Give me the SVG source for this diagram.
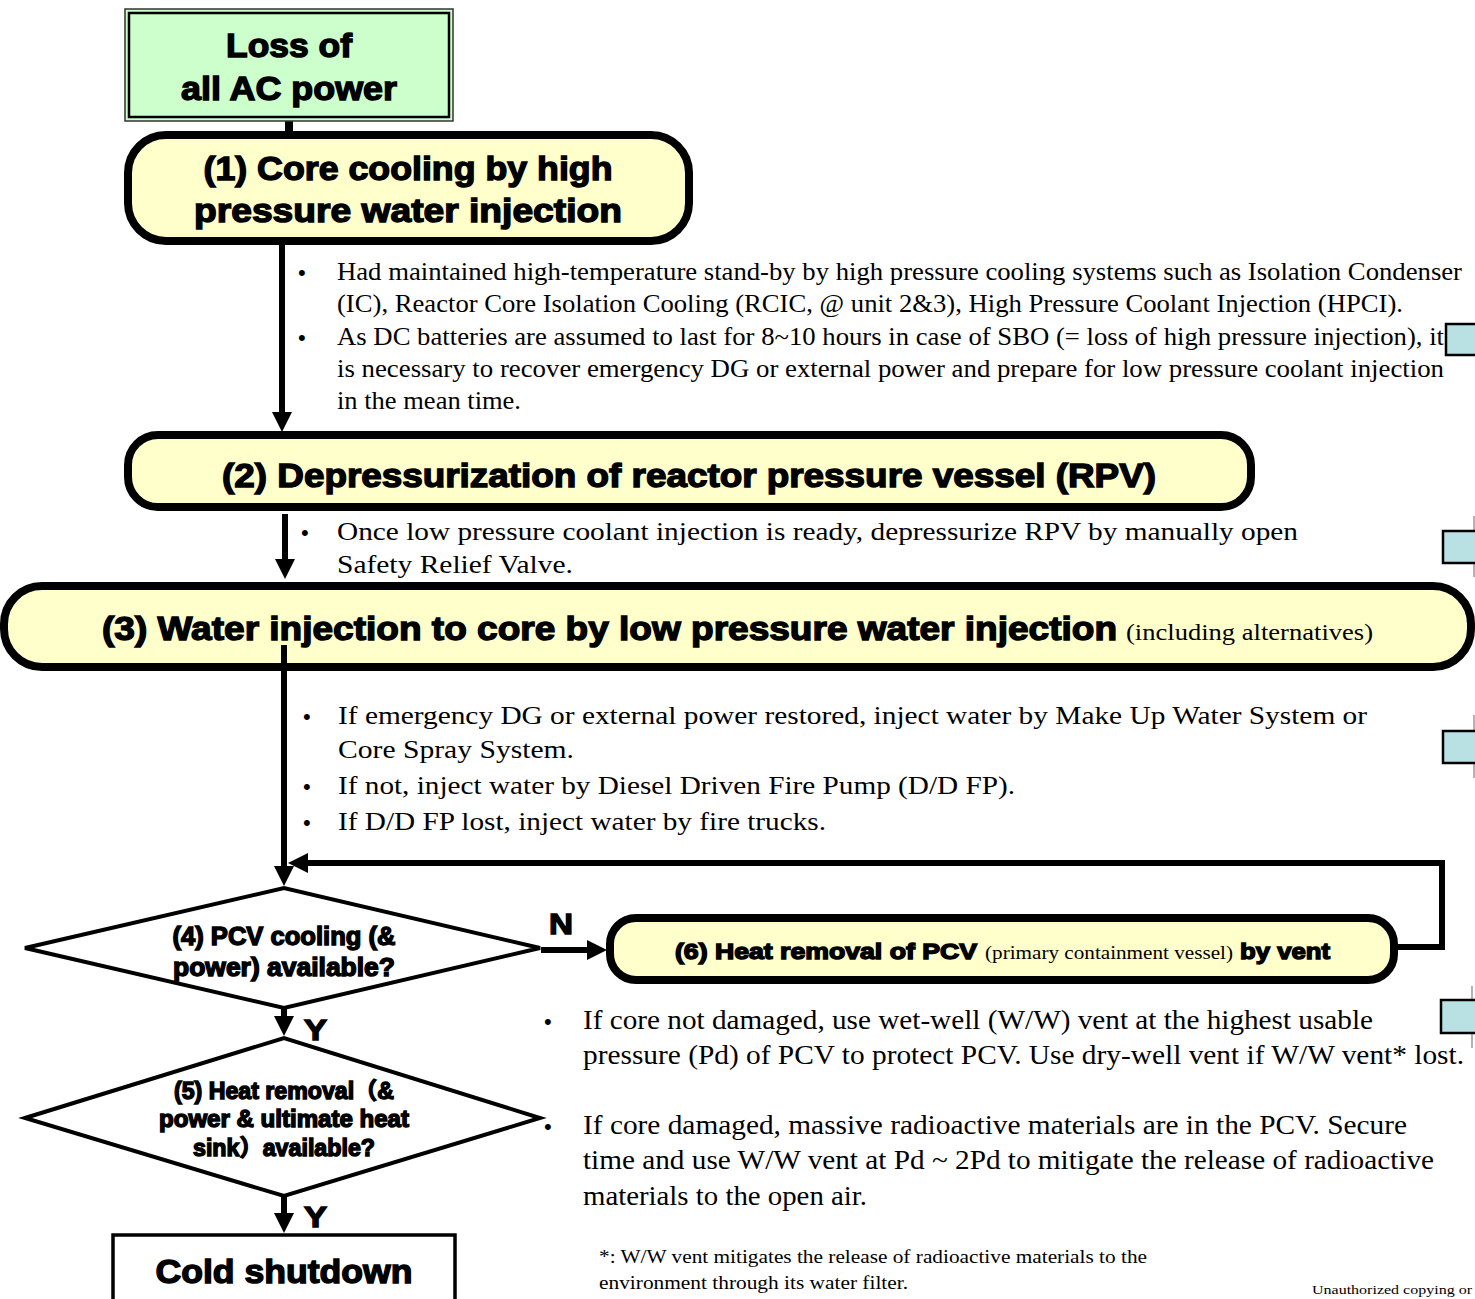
<svg xmlns="http://www.w3.org/2000/svg" width="1475" height="1299" viewBox="0 0 1475 1299">
  <style>
    .head { font-family: "Liberation Sans", Arial, "Noto Sans CJK JP", sans-serif; font-weight: bold; fill: #000; stroke: #000; stroke-width: 1.4; }
    .body { font-family: "Liberation Serif", "Times New Roman", serif; fill: #000; }
    .dot { font-family: "Liberation Sans", Arial, sans-serif; fill: #000; }
    .box { fill: #ffffcc; stroke: #000; stroke-width: 8; }
    .dia { fill: #fff; stroke: #000; stroke-width: 4; stroke-linejoin: miter; }
    .wire { fill: none; stroke: #000; stroke-width: 6; }
    .tab { fill: #b9e1e4; stroke: #000; stroke-width: 2.5; }
    .edge { stroke: #999; stroke-width: 1.5; }
  </style>
  <defs>
    <marker id="arrow" viewBox="0 0 20 20" refX="6" refY="10" markerWidth="20" markerHeight="20" markerUnits="userSpaceOnUse" orient="auto">
      <path d="M0,0 L20,10 L0,20 z" fill="#000"/>
    </marker>
  </defs>

  <rect width="1475" height="1299" fill="#fff"/>

  <!-- connectors -->
  <g id="connectors">
    <line x1="289" y1="119" x2="289" y2="137" stroke="#000" stroke-width="8"/>
    <line class="wire" x1="282" y1="245" x2="282" y2="418" marker-end="url(#arrow)"/>
    <line class="wire" x1="285" y1="514" x2="285" y2="565" marker-end="url(#arrow)"/>
    <line class="wire" x1="284" y1="645" x2="284" y2="872" marker-end="url(#arrow)"/>
    <path class="wire" d="M1396,947 H1442 V863 H302" marker-end="url(#arrow)"/>
    <line class="wire" x1="541" y1="950" x2="593" y2="950" marker-end="url(#arrow)"/>
    <line class="wire" x1="284" y1="1009" x2="284" y2="1022" marker-end="url(#arrow)"/>
    <line class="wire" x1="284" y1="1197" x2="284" y2="1219" marker-end="url(#arrow)"/>
  </g>

  <!-- start: loss of all AC power -->
  <g id="node-loss">
    <rect x="125" y="9" width="328" height="112" fill="#ccffcc" stroke="#333" stroke-width="1.5"/>
    <rect x="129" y="13" width="320" height="104" fill="none" stroke="#000" stroke-width="2.5"/>
    <text class="head" x="289" y="57" font-size="34" text-anchor="middle" textLength="126" lengthAdjust="spacingAndGlyphs">Loss of</text>
    <text class="head" x="289" y="100" font-size="34" text-anchor="middle" textLength="216" lengthAdjust="spacingAndGlyphs">all AC power</text>
  </g>

  <!-- (1) high pressure injection -->
  <g id="node-1">
    <rect class="box" x="128" y="135" width="561" height="106" rx="38"/>
    <text class="head" x="408" y="180" font-size="34" text-anchor="middle" textLength="409" lengthAdjust="spacingAndGlyphs">(1) Core cooling by high</text>
    <text class="head" x="408" y="222" font-size="34" text-anchor="middle" textLength="428" lengthAdjust="spacingAndGlyphs">pressure water injection</text>
  </g>

  <g id="notes-1" class="body" font-size="25.5">
    <text class="dot" x="298" y="280" font-size="22">•</text>
    <text x="337" y="280" textLength="1125" lengthAdjust="spacingAndGlyphs">Had maintained high-temperature stand-by by high pressure cooling systems such as Isolation Condenser</text>
    <text x="337" y="312" textLength="1066" lengthAdjust="spacingAndGlyphs">(IC), Reactor Core Isolation Cooling (RCIC, @ unit 2&amp;3), High Pressure Coolant Injection (HPCI).</text>
    <text class="dot" x="298" y="345" font-size="22">•</text>
    <text x="337" y="345" textLength="1107" lengthAdjust="spacingAndGlyphs">As DC batteries are assumed to last for 8~10 hours in case of SBO (= loss of high pressure injection), it</text>
    <text x="337" y="377" textLength="1107" lengthAdjust="spacingAndGlyphs">is necessary to recover emergency DG or external power and prepare for low pressure coolant injection</text>
    <text x="337" y="409" textLength="184" lengthAdjust="spacingAndGlyphs">in the mean time.</text>
  </g>

  <!-- (2) depressurization -->
  <g id="node-2">
    <rect class="box" x="128" y="435" width="1123" height="72" rx="30"/>
    <text class="head" x="689" y="487" font-size="34" text-anchor="middle" textLength="934" lengthAdjust="spacingAndGlyphs">(2) Depressurization of reactor pressure vessel (RPV)</text>
  </g>

  <g id="notes-2" class="body" font-size="26">
    <text class="dot" x="301" y="540" font-size="22">•</text>
    <text x="337" y="540" textLength="961" lengthAdjust="spacingAndGlyphs">Once low pressure coolant injection is ready, depressurize RPV by manually open</text>
    <text x="337" y="573" textLength="236" lengthAdjust="spacingAndGlyphs">Safety Relief Valve.</text>
  </g>

  <!-- (3) low pressure injection -->
  <g id="node-3">
    <rect class="box" x="4" y="586" width="1467" height="81" rx="38"/>
    <text class="head" x="102" y="640" font-size="34" textLength="1015" lengthAdjust="spacingAndGlyphs">(3) Water injection to core by low pressure water injection</text>
    <text class="body" x="1126" y="640" font-size="23.5" textLength="247" lengthAdjust="spacingAndGlyphs">(including alternatives)</text>
  </g>
  <line x1="284" y1="645" x2="284" y2="672" stroke="#000" stroke-width="6"/>

  <g id="notes-3" class="body" font-size="26">
    <text class="dot" x="303" y="724" font-size="22">•</text>
    <text x="338" y="724" textLength="1029" lengthAdjust="spacingAndGlyphs">If emergency DG or external power restored, inject water by Make Up Water System or</text>
    <text x="338" y="758" textLength="236" lengthAdjust="spacingAndGlyphs">Core Spray System.</text>
    <text class="dot" x="303" y="794" font-size="22">•</text>
    <text x="338" y="794" textLength="677" lengthAdjust="spacingAndGlyphs">If not, inject water by Diesel Driven Fire Pump (D/D FP).</text>
    <text class="dot" x="303" y="830" font-size="22">•</text>
    <text x="338" y="830" textLength="488" lengthAdjust="spacingAndGlyphs">If D/D FP lost, inject water by fire trucks.</text>
  </g>

  <!-- (4) decision -->
  <g id="node-4">
    <polygon class="dia" points="25,948 284,888 540,948 284,1008"/>
    <text class="head" x="284" y="945" font-size="25" text-anchor="middle" stroke-width="0.9" textLength="223" lengthAdjust="spacingAndGlyphs">(4) PCV cooling (&amp;</text>
    <text class="head" x="284" y="976" font-size="25" text-anchor="middle" stroke-width="0.9" textLength="222" lengthAdjust="spacingAndGlyphs">power) available?</text>
  </g>
  <text class="head" x="549" y="934" font-size="30" textLength="24" lengthAdjust="spacingAndGlyphs">N</text>
  <text class="head" x="304" y="1040" font-size="30" textLength="23" lengthAdjust="spacingAndGlyphs">Y</text>

  <!-- (6) vent -->
  <g id="node-6">
    <rect class="box" x="610" y="918" width="784" height="62" rx="26"/>
    <text x="675" y="959">
      <tspan class="head" font-size="22" stroke-width="0.9" textLength="302" lengthAdjust="spacingAndGlyphs">(6) Heat removal of  PCV</tspan>
      <tspan class="body" x="985" font-size="19.5" textLength="248" lengthAdjust="spacingAndGlyphs">(primary containment vessel)</tspan>
      <tspan class="head" x="1240" font-size="22" stroke-width="0.9" textLength="90" lengthAdjust="spacingAndGlyphs">by vent</tspan>
    </text>
  </g>

  <g id="notes-6" class="body" font-size="27">
    <text class="dot" x="544" y="1029" font-size="22">•</text>
    <text x="583" y="1029" textLength="790" lengthAdjust="spacingAndGlyphs">If core not damaged, use wet-well (W/W) vent at the highest usable</text>
    <text x="583" y="1064" textLength="881" lengthAdjust="spacingAndGlyphs">pressure (Pd) of PCV to protect PCV. Use dry-well vent if W/W vent* lost.</text>
    <text class="dot" x="544" y="1134" font-size="22">•</text>
    <text x="583" y="1134" textLength="824" lengthAdjust="spacingAndGlyphs">If core damaged, massive radioactive materials are in the PCV. Secure</text>
    <text x="583" y="1169" textLength="851" lengthAdjust="spacingAndGlyphs">time and use W/W vent at Pd ~ 2Pd to mitigate the release of radioactive</text>
    <text x="583" y="1205" textLength="284" lengthAdjust="spacingAndGlyphs">materials to the open air.</text>
  </g>

  <!-- (5) decision -->
  <g id="node-5">
    <polygon class="dia" points="25,1118 284,1038 540,1118 284,1196"/>
    <text class="head" x="284" y="1099" font-size="23" text-anchor="middle" stroke-width="0.9" textLength="220" lengthAdjust="spacingAndGlyphs">(5) Heat removal（&amp;</text>
    <text class="head" x="284" y="1127" font-size="23" text-anchor="middle" stroke-width="0.9" textLength="250" lengthAdjust="spacingAndGlyphs">power &amp; ultimate heat</text>
    <text class="head" x="284" y="1156" font-size="23" text-anchor="middle" stroke-width="0.9" textLength="182" lengthAdjust="spacingAndGlyphs">sink）available?</text>
  </g>
  <text class="head" x="304" y="1227" font-size="30" textLength="23" lengthAdjust="spacingAndGlyphs">Y</text>

  <!-- end state -->
  <g id="node-cold">
    <rect x="113" y="1235" width="342" height="80" fill="#fff" stroke="#000" stroke-width="3.5"/>
    <text class="head" x="284" y="1283" font-size="34" text-anchor="middle" textLength="257" lengthAdjust="spacingAndGlyphs">Cold shutdown</text>
  </g>

  <g id="footnote" class="body" font-size="19">
    <text x="599" y="1263" textLength="548" lengthAdjust="spacingAndGlyphs">*: W/W vent mitigates the release of radioactive materials to the</text>
    <text x="599" y="1289" textLength="309" lengthAdjust="spacingAndGlyphs">environment through its water filter.</text>
  </g>
  <text class="body" x="1312" y="1294" font-size="13.5" textLength="160" lengthAdjust="spacingAndGlyphs">Unauthorized copying or</text>

  <!-- side tabs cut off at the right margin -->
  <g id="side-tabs">
    <rect class="tab" x="1446" y="324" width="35" height="31"/>
    <line class="edge" x1="1474" y1="516" x2="1474" y2="577"/>
    <rect class="tab" x="1443" y="531" width="38" height="32"/>
    <line class="edge" x1="1474" y1="715" x2="1474" y2="778"/>
    <rect class="tab" x="1443" y="731" width="38" height="32"/>
    <line class="edge" x1="1472" y1="986" x2="1472" y2="1048"/>
    <rect class="tab" x="1441" y="1000" width="40" height="33"/>
  </g>
</svg>
